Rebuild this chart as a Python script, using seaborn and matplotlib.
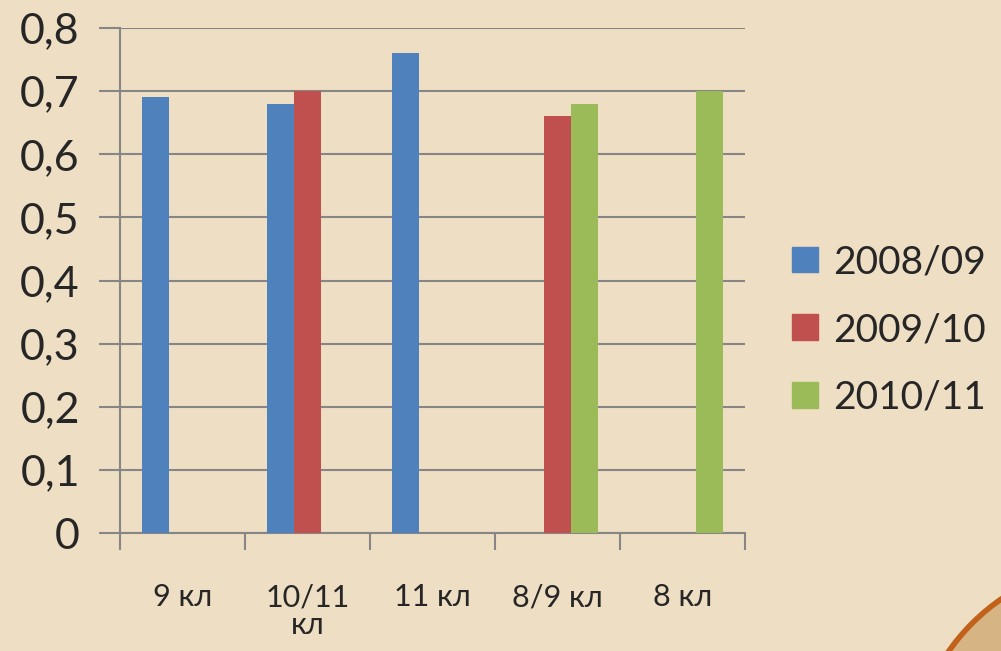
import numpy as np
import pandas as pd
import matplotlib
matplotlib.use('Agg')
import matplotlib.pyplot as plt
import seaborn as sns
from matplotlib.patches import Circle

# --- Data ---
categories = ['9 кл', '10/11\nкл', '11 кл', '8/9 кл', '8 кл']
series = ['2008/09', '2009/10', '2010/11']
vals_0809 = [0.69, 0.68, 0.76, np.nan, np.nan]
vals_0910 = [np.nan, 0.70, np.nan, 0.66, np.nan]
vals_1011 = [np.nan, np.nan, np.nan, 0.68, 0.70]
colors = ['#4F81BD', '#C0504D', '#9BBB59']

rows = []
for s, vals in zip(series, [vals_0809, vals_0910, vals_1011]):
    for c, v in zip(categories, vals):
        rows.append({'cat': c, 'year': s, 'value': v})
df = pd.DataFrame(rows)

sns.set_style('white')
plt.rcParams['font.family'] = ['Lato', 'DejaVu Sans']

bg = '#eedec3'
fig = plt.figure(figsize=(10.01, 6.51), dpi=100, facecolor=bg)
ax = fig.add_axes([0.12, 0.181, 0.624, 0.776])
ax.set_facecolor('none')

sns.barplot(data=df, x='cat', y='value', hue='year', order=categories,
            hue_order=series, palette=colors, width=0.65, gap=0,
            saturation=1, errorbar=None, ax=ax, legend=False,
            linewidth=0, zorder=3)

ax.set_xlim(-0.5, len(categories) - 0.5)
ax.set_ylim(0, 0.8)
ax.set_yticks(np.arange(0, 0.81, 0.1))
ax.set_yticklabels(['0'] + [f'0,{i}' for i in range(1, 9)], fontsize=31)
ax.yaxis.grid(True, color='#868686', linewidth=1.5, zorder=0)
ax.set_axisbelow(True)
ax.tick_params(axis='y', left=True, length=15, width=1.5, color='#868686', pad=14)

# category ticks at boundaries
ax.set_xticks(range(len(categories)))
ax.set_xticklabels(categories, fontsize=22, linespacing=1.0, va='top')
ax.set_xticks(np.arange(-0.5, len(categories)), minor=True)
ax.tick_params(axis='x', which='major', length=0, pad=36)
ax.tick_params(axis='x', which='minor', bottom=True, length=12, width=1.5,
               color='#868686')
ax.set_xlabel('')
ax.set_ylabel('')

for side in ['top', 'right']:
    ax.spines[side].set_visible(False)
for side in ['left', 'bottom']:
    ax.spines[side].set_color('#868686')
    ax.spines[side].set_linewidth(1.5)

# legend
handles = [plt.Rectangle((0, 0), 1, 1, color=c) for c in colors]
fig.legend(handles, series, loc='center left', bbox_to_anchor=(0.776, 0.493),
           frameon=False, fontsize=28, handlelength=0.65, handleheight=0.65,
           handletextpad=0.4, labelspacing=0.82, borderaxespad=0)

# decorative corner arc
fig.add_artist(Circle((11.2, -1.2), 2.09, transform=fig.dpi_scale_trans,
                      facecolor='#d7b483', edgecolor='#c0621a', linewidth=4,
                      zorder=0))

fig.savefig('out.png', dpi=100, facecolor=bg)
